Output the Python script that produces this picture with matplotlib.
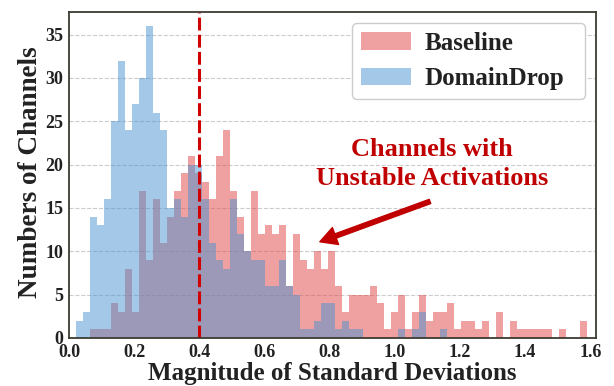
import matplotlib
matplotlib.use('Agg')
import matplotlib.pyplot as plt
import numpy as np

# histogram counts per bin
bin_start = 0.0215
bin_width = 0.0215
baseline = [0, 0, 1, 1, 1, 4, 3, 8, 3, 17,
            9, 16, 11, 14, 17, 19, 21, 19, 18, 16,
            21, 24, 17, 14, 10, 17, 12, 13, 12, 13,
            6, 12, 9, 8, 10, 8, 10, 6, 3, 5,
            5, 5, 6, 4, 1, 3, 5, 1, 3, 5,
            2, 3, 3, 4, 1, 2, 2, 1, 2, 0,
            3, 0, 2, 1, 1, 1, 1, 1, 0, 1,
            0, 0, 2]
domaindrop = [2, 3, 14, 13, 16, 25, 32, 24, 27, 30,
              36, 26, 24, 15, 16, 14, 20, 20, 16, 11,
              9, 8, 16, 12, 10, 9, 9, 6, 6, 9,
              6, 5, 1, 1, 2, 4, 4, 1, 2, 1,
              1, 0, 0, 0, 0, 0, 1, 0, 1, 3,
              0, 0, 1, 0, 0, 0, 0, 0, 0, 0,
              0, 0, 0, 0, 0, 0, 0, 0, 0, 0,
              0, 0, 0]
threshold = 0.4

edges = bin_start + bin_width * np.arange(len(baseline) + 1)
centers = (edges[:-1] + edges[1:]) / 2

plt.rcParams['font.family'] = ['Liberation Serif', 'DejaVu Serif']
plt.rcParams['font.weight'] = 'bold'

fig = plt.figure(figsize=(6.14, 3.86), dpi=100)
ax = fig.add_axes([69 / 614, 1 - 338 / 386, 527 / 614, 326 / 386])

ax.hist(centers, bins=edges, weights=baseline, color='#e04545', alpha=0.5, label='Baseline')
ax.hist(centers, bins=edges, weights=domaindrop, color='#4a92d0', alpha=0.5, label='DomainDrop')

ax.axvline(threshold, color='#d00000', lw=2.2, dashes=(4.2, 1.4))

ax.set_xlim(0, 1.6176)
ax.set_ylim(0, 37.6)
ax.set_xticks(np.arange(0, 1.61, 0.2))
ax.set_yticks(np.arange(0, 36, 5))
ax.xaxis.set_major_formatter(matplotlib.ticker.FormatStrFormatter('%.1f'))
ax.tick_params(length=0, labelsize=13, colors='#222222', pad=4)
ax.yaxis.grid(True, ls='--', color='#cccccc', lw=0.8)
ax.set_axisbelow(True)
for s in ax.spines.values():
    s.set_color('#3c3c32')
    s.set_linewidth(1.3)

ax.set_xlabel('Magnitude of Standard Deviations', fontsize=18, fontweight='bold', color='#222222', labelpad=1)
ax.set_ylabel('Numbers of Channels', fontsize=19.5, fontweight='bold', color='#222222')
ax.yaxis.set_label_coords(-0.050, 0.51)

leg = ax.legend(loc='upper left', bbox_to_anchor=(0.537, 0.966, 0.442, 0.0), mode='expand',
                borderaxespad=0, fontsize=18, handletextpad=0.55, borderpad=0.35,
                fancybox=True, framealpha=1)
leg.get_frame().set_edgecolor('#cccccc')
for t in leg.get_texts():
    t.set_color('#222222')

ax.annotate('Channels with\nUnstable Activations', xy=(0.77, 11.1), xytext=(1.115, 20.05),
            ha='center', va='center', fontsize=19, fontweight='bold', color='#c00000',
            linespacing=1.3)
ax.annotate('', xy=(0.77, 11.1), xytext=(1.108, 15.75),
            arrowprops=dict(facecolor='#c00000', edgecolor='#c00000', width=3.2, headwidth=13,
                            headlength=12, shrink=0))

fig.savefig('out.png', dpi=100)
